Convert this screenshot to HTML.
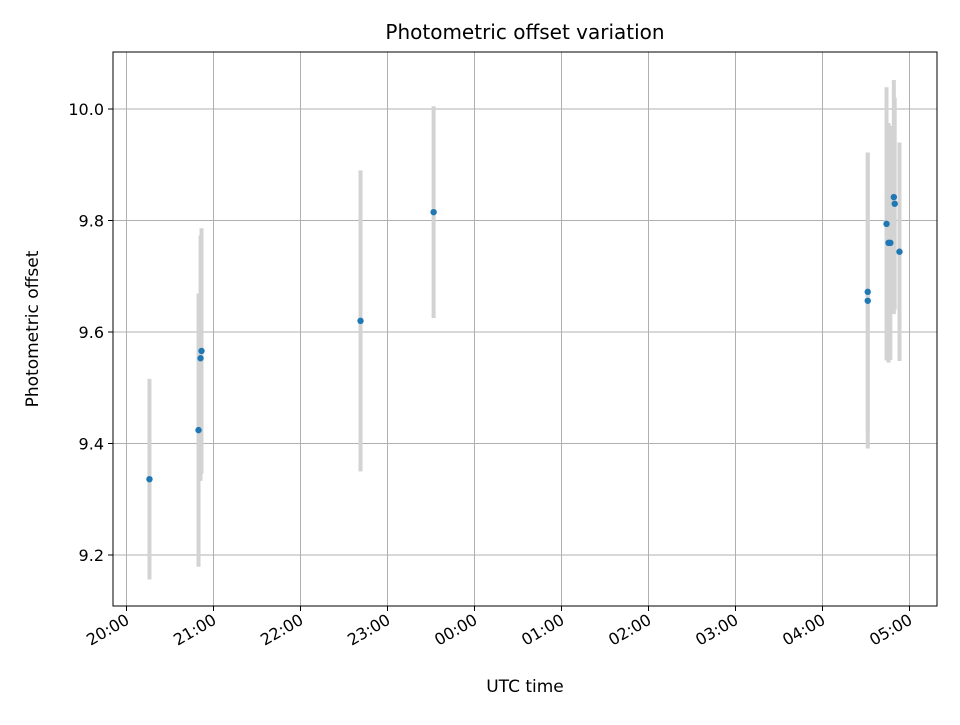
<!DOCTYPE html>
<html><head><meta charset="utf-8"><style>
body{margin:0;background:#fff;}
svg text{font-family:"DejaVu Sans","Liberation Sans",sans-serif;fill:#000;}
</style></head><body>
<svg id="chart" width="960" height="720" xmlns="http://www.w3.org/2000/svg">
<rect width="960" height="720" fill="#fff"/>
<g id="grid"></g><g id="bars"></g><g id="pts"></g><g id="axes"></g>
<text x="525" y="39" text-anchor="middle" style="font-size:20px">Photometric offset variation</text>
<text x="525" y="692" text-anchor="middle" style="font-size:17px">UTC time</text>
<text transform="translate(38,329) rotate(-90)" text-anchor="middle" style="font-size:17px">Photometric offset</text>
</svg>
<script>
// hours since 20:00 UTC
const times = [0.264, 0.828, 0.851, 0.862, 2.69, 3.53, 8.52, 8.52, 8.736, 8.759, 8.78, 8.82, 8.83, 8.885];
const offsets = [9.336, 9.424, 9.553, 9.566, 9.620, 9.815, 9.672, 9.656, 9.794, 9.760, 9.760, 9.842, 9.830, 9.744];
const errors = [0.18, 0.245, 0.22, 0.22, 0.27, 0.19, 0.25, 0.265, 0.245, 0.215, 0.21, 0.21, 0.19, 0.196];
const xTickLabels = ["20:00","21:00","22:00","23:00","00:00","01:00","02:00","03:00","04:00","05:00"];
const yTicks = [9.2, 9.4, 9.6, 9.8, 10.0];

const L=113,R=937,T=52,B=606;
const X=h=>126.5+h*87;
const Y=v=>109+(10.0-v)*557.5;
const NS="http://www.w3.org/2000/svg";
function mk(tag,attrs,parent){const e=document.createElementNS(NS,tag);for(const k in attrs)e.setAttribute(k,attrs[k]);parent.appendChild(e);return e;}
const grid=document.getElementById('grid'),bars=document.getElementById('bars'),pts=document.getElementById('pts'),axes=document.getElementById('axes');

xTickLabels.forEach((lab,i)=>{
  const x=X(i);
  const g=mk('line',{x1:x,x2:x,y1:T,y2:B,stroke:'#b0b0b0','stroke-width':1},grid);
  
  
  const t=mk('line',{x1:x,x2:x,y1:B,y2:B+5,stroke:'#000','stroke-width':1},axes);
  
  
  const tx=mk('text',{transform:`translate(${x+4},${B+17}) rotate(-30)`,'text-anchor':'end',style:'font-size:16px'},axes);
  tx.textContent=lab;
  
  
});
yTicks.forEach(v=>{
  const y=Y(v);
  const g=mk('line',{x1:L,x2:R,y1:y,y2:y,stroke:'#b0b0b0','stroke-width':1},grid);
  
  
  const t=mk('line',{x1:L-5,x2:L,y1:y,y2:y,stroke:'#000','stroke-width':1},axes);
  
  
  const tx=mk('text',{x:L-9,y:y+6,'text-anchor':'end',style:'font-size:16px'},axes);
  tx.textContent=v.toFixed(1);
  
  
});
times.forEach((h,i)=>{
  const x=X(h);
  const b=mk('line',{x1:x,x2:x,y1:Y(offsets[i]+errors[i]),y2:Y(offsets[i]-errors[i]),stroke:'#d3d3d3','stroke-width':4},bars);
  
  
});
times.forEach((h,i)=>{
  const c=mk('circle',{cx:X(h),cy:Y(offsets[i]),r:3.2,fill:'#1f77b4'},pts);
  
  
});
const f=mk('rect',{x:L,y:T,width:R-L,height:B-T,fill:'none',stroke:'#000','stroke-width':1},axes);


</script>
</body></html>
